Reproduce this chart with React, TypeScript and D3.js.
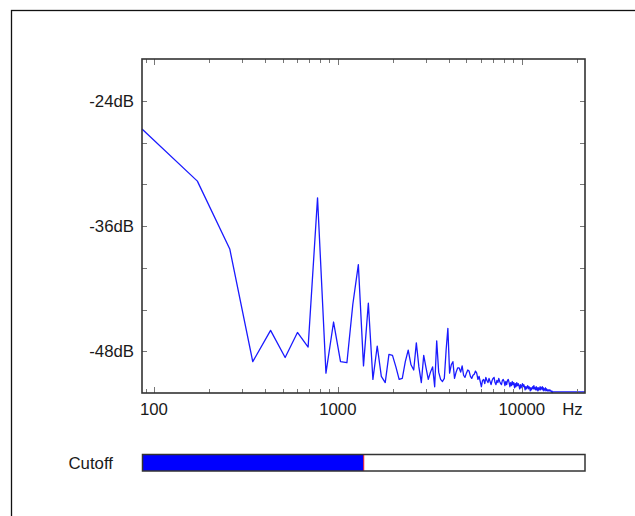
import React, { useEffect, useRef } from 'react';
import * as d3 from 'd3';

// FFT setup: bin k sits at k * SAMPLE_RATE / FFT_SIZE Hz
const SAMPLE_RATE = 44100;
const FFT_SIZE = 512;

// magnitude of bins 1..256 in dB
const spectrumDb = [
  -26.7, -31.7, -38.2, -49.0, -46.0, -48.6, -46.2, -47.6, -33.3, -50.1,
  -45.2, -49.0, -49.1, -43.5, -39.7, -49.4, -43.4, -50.7, -47.5, -50.4,
  -51.0, -48.3, -48.4, -49.5, -50.7, -50.6, -49.0, -47.9, -49.3, -49.8,
  -47.2, -49.5, -51.0, -48.4, -49.6, -50.7, -50.0, -49.5, -51.4, -47.0,
  -50.0, -50.7, -50.9, -50.6, -47.9, -45.8, -50.1, -49.3, -49.0, -50.6,
  -50.0, -49.6, -49.6, -50.0, -49.4, -50.3, -50.5, -50.1, -49.8, -49.9,
  -50.4, -50.6, -50.3, -50.2, -49.9, -50.1, -50.7, -50.4, -50.9, -51.4,
  -50.8, -50.7, -51.1, -50.5, -50.8, -51.0, -50.6, -50.9, -51.2, -50.8,
  -50.6, -50.5, -51.0, -51.2, -50.8, -51.0, -50.6, -50.9, -51.1, -51.2,
  -50.8, -50.7, -50.9, -51.3, -50.9, -51.2, -50.8, -50.7, -51.0, -51.4,
  -51.0, -51.3, -50.9, -51.2, -51.0, -51.5, -51.1, -51.4, -51.0, -51.3,
  -51.1, -51.3, -51.6, -51.2, -51.5, -51.3, -51.1, -51.4, -51.2, -51.4,
  -51.7, -51.4, -51.6, -51.4, -51.3, -51.6, -51.4, -51.5, -51.8, -51.5,
  -51.7, -51.5, -51.4, -51.6, -51.3, -51.6, -51.5, -51.7, -51.4, -51.7,
  -51.5, -51.8, -51.5, -51.7, -51.6, -51.4, -51.7, -51.5, -51.6, -51.4,
  -51.7, -51.5, -51.8, -51.6, -51.7, -51.5, -51.8, -51.6, -51.7, -51.8,
  -51.7, -51.8, -51.7, -51.8, -51.7, -51.8, -51.8, -51.9, -51.8, -51.95,
  -51.9, -51.9, -51.9, -51.9, -51.9, -51.9, -51.9, -51.9, -51.9, -51.9,
  -51.9, -51.9, -51.9, -51.9, -51.9, -51.9, -51.9, -51.9, -51.9, -51.9,
  -51.9, -51.9, -51.9, -51.9, -51.9, -51.9, -51.9, -51.9, -51.9, -51.9,
  -51.9, -51.9, -51.9, -51.9, -51.9, -51.9, -51.9, -51.9, -51.9, -51.9,
  -51.9, -51.9, -51.9, -51.9, -51.9, -51.9, -51.9, -51.9, -51.9, -51.9,
  -51.9, -51.9, -51.9, -51.9, -51.9, -51.9, -51.9, -51.9, -51.9, -51.9,
  -51.9, -51.9, -51.9, -51.9, -51.9, -51.9, -51.9, -51.9, -51.9, -51.9,
  -51.9, -51.9, -51.9, -51.9, -51.9, -51.9, -51.9, -51.9, -51.9, -51.9,
  -51.9, -51.9, -51.9, -51.9, -51.9, -51.9,
];

const dbDomain = [-52, -20];
const yTicks = [-48, -44, -40, -36, -32, -28, -24];
const yLabels = [-48, -36, -24];
const xMajorTicks = [100, 1000, 10000];
const xMinorTicks = [
  90, 200, 300, 400, 500, 600, 700, 800, 900,
  2000, 3000, 4000, 5000, 6000, 7000, 8000, 9000, 20000,
];
const xUnit = 'Hz';
const cutoffLabel = 'Cutoff';
const cutoffLevel = 0.5;

const FONT = '"Liberation Sans", Arial, sans-serif';

const App = () => {
  const svgRef = useRef<SVGSVGElement>(null);

  useEffect(() => {
    const svg = d3.select(svgRef.current);
    svg.selectAll('*').remove();

    const left = 142, right = 585, top = 59, bottom = 393;

    const binHz = SAMPLE_RATE / FFT_SIZE;
    const points = spectrumDb.map((db, i) => ({ f: (i + 1) * binHz, db }));

    const x = d3.scaleLog()
      .domain([binHz, binHz * spectrumDb.length])
      .range([left, right]);

    const y = d3.scaleLinear()
      .domain(dbDomain)
      .range([bottom, top]);

    // outer panel border (runs past the window)
    svg.append('rect')
      .attr('x', 11.5).attr('y', 10.5)
      .attr('width', 700).attr('height', 600)
      .attr('fill', 'none')
      .attr('stroke', '#111')
      .attr('stroke-width', 1.3);

    // spectrum line
    const line = d3.line<{ f: number; db: number }>()
      .x(d => x(d.f))
      .y(d => y(d.db));

    svg.append('path')
      .datum(points)
      .attr('fill', 'none')
      .attr('stroke', '#1a1aff')
      .attr('stroke-width', 1.3)
      .attr('stroke-linejoin', 'round')
      .attr('d', line);

    // ticks, all pointing inward
    const ticks = svg.append('g').attr('stroke', '#777').attr('stroke-width', 1);
    yTicks.forEach(v => {
      const yy = Math.round(y(v)) + 0.5;
      ticks.append('line').attr('x1', left).attr('x2', left + 5).attr('y1', yy).attr('y2', yy);
      ticks.append('line').attr('x1', right).attr('x2', right - 5).attr('y1', yy).attr('y2', yy);
    });
    const xTick = (v: number, len: number) => {
      const xx = Math.round(x(v)) + 0.5;
      ticks.append('line').attr('x1', xx).attr('x2', xx).attr('y1', bottom).attr('y2', bottom - len);
      ticks.append('line').attr('x1', xx).attr('x2', xx).attr('y1', top).attr('y2', top + len);
    };
    xMinorTicks.forEach(v => xTick(v, 4));
    xMajorTicks.forEach(v => xTick(v, 6));

    // plot frame
    svg.append('rect')
      .attr('x', left).attr('y', top)
      .attr('width', right - left).attr('height', bottom - top)
      .attr('fill', 'none')
      .attr('stroke', '#333')
      .attr('stroke-width', 1.6);

    // labels
    const text = svg.append('g')
      .attr('font-family', FONT)
      .attr('font-size', 16.8)
      .attr('fill', '#1a1a1a');

    yLabels.forEach(v => {
      text.append('text')
        .attr('x', left - 8)
        .attr('y', y(v))
        .attr('dy', '0.35em')
        .attr('text-anchor', 'end')
        .text(`${v}dB`);
    });

    xMajorTicks.forEach(v => {
      text.append('text')
        .attr('x', x(v))
        .attr('y', 415)
        .attr('text-anchor', 'middle')
        .text(String(v));
    });

    text.append('text')
      .attr('x', 572.5)
      .attr('y', 415)
      .attr('text-anchor', 'middle')
      .text(xUnit);

    // cutoff bar
    const barTop = 454.5, barH = 16.5;
    const c = d3.scaleLinear().domain([0, 1]).range([left + 0.5, right]);

    text.append('text')
      .attr('x', 68.5)
      .attr('y', barTop + barH / 2)
      .attr('dy', '0.35em')
      .text(cutoffLabel);

    svg.append('rect')
      .attr('x', c(0)).attr('y', barTop)
      .attr('width', c(cutoffLevel) - c(0)).attr('height', barH)
      .attr('fill', '#0000ff');

    svg.append('line')
      .attr('x1', c(cutoffLevel)).attr('x2', c(cutoffLevel))
      .attr('y1', barTop).attr('y2', barTop + barH)
      .attr('stroke', '#ff2020')
      .attr('stroke-width', 1);

    svg.append('rect')
      .attr('x', c(0)).attr('y', barTop)
      .attr('width', c(1) - c(0)).attr('height', barH)
      .attr('fill', 'none')
      .attr('stroke', '#333')
      .attr('stroke-width', 1.5);
  }, []);

  return (
    <svg
      ref={svgRef}
      width={635}
      height={516}
      style={{ position: 'absolute', left: 0, top: 0, background: '#fff' }}
    />
  );
};

export default App;
